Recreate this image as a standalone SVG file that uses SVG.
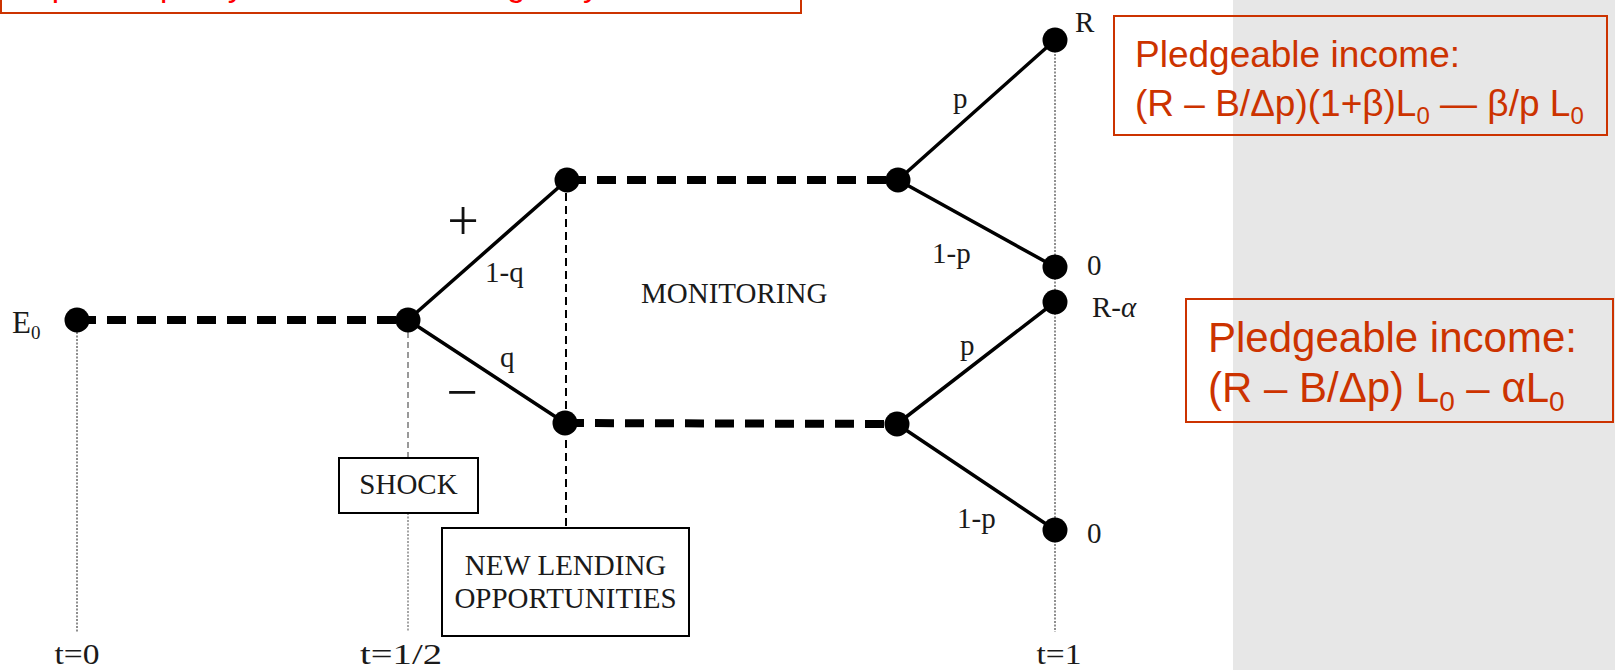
<svg xmlns="http://www.w3.org/2000/svg" width="1615" height="670" viewBox="0 0 1615 670">
  <style>
    .serif { font-family: "Liberation Serif", "Times New Roman", serif; font-size: 29px; fill: #1a1a1a; }
    .sign { font-family: "Liberation Serif", "Times New Roman", serif; font-size: 56px; fill: #111; }
    .red { font-family: "Liberation Sans", Arial, sans-serif; fill: #CC3300; }
    .redbox { fill: none; stroke: #CC3300; stroke-width: 2; }
    .node { fill: #000; }
    .thick { stroke: #000; stroke-width: 8; stroke-dasharray: 19 11; fill: none; }
    .branch { stroke: #000; stroke-width: 3.5; fill: none; stroke-linecap: round; }
    .dotted { stroke: #444; stroke-width: 1.2; stroke-dasharray: 2 1.5; fill: none; }
    .greydash { stroke: #999; stroke-width: 2; stroke-dasharray: 6 4; fill: none; }
    .greydot { stroke: #888; stroke-width: 1.5; stroke-dasharray: 2 1.5; fill: none; }
    .blackdash { stroke: #000; stroke-width: 2; stroke-dasharray: 8 5; fill: none; }
    .box { fill: #fff; stroke: #000; stroke-width: 2; }
  </style>

  <rect x="0" y="0" width="1615" height="670" fill="#fff"/>
  <!-- shaded right-hand panel -->
  <rect x="1233" y="0" width="382" height="670" fill="#E7E7E7"/>

  <!-- header box, running off the top edge -->
  <g id="header">
    <rect x="1" y="-40" width="800" height="53" fill="#fff" stroke="#CC3300" stroke-width="2"/>
    <text y="-4" font-family="Liberation Sans, Arial, sans-serif" font-size="33" fill="#FF0000"><tspan x="15">Impact of</tspan><tspan x="160">policy</tspan><tspan x="276">on bank</tspan><tspan x="419">lending</tspan><tspan x="539">only</tspan></text>
  </g>

  <!-- connectors -->
  <g id="connectors">
    <!-- time axis guides -->
    <line class="dotted" x1="77" y1="332" x2="77" y2="632"/>
    <line class="greydash" x1="408" y1="332" x2="408" y2="458"/>
    <line class="greydot" x1="408" y1="513" x2="408" y2="632"/>
    <line class="blackdash" x1="566" y1="180" x2="566" y2="528"/>
    <line class="dotted" x1="1055" y1="40" x2="1055" y2="632"/>
    <!-- thick dashed waiting periods -->
    <line class="thick" x1="77" y1="320" x2="408" y2="320"/>
    <line class="thick" x1="567" y1="180" x2="898" y2="180"/>
    <line class="thick" x1="565" y1="423" x2="897" y2="424"/>
    <!-- branches -->
    <line class="branch" x1="408" y1="320" x2="567" y2="180"/>
    <line class="branch" x1="408" y1="320" x2="565" y2="423"/>
    <line class="branch" x1="898" y1="180" x2="1055" y2="40"/>
    <line class="branch" x1="898" y1="180" x2="1055" y2="267"/>
    <line class="branch" x1="897" y1="424" x2="1055" y2="302"/>
    <line class="branch" x1="897" y1="424" x2="1055" y2="530"/>
  </g>

  <!-- nodes -->
  <g id="n-e0"><circle class="node" cx="77" cy="320" r="12.5"/>
    <text class="serif" x="12" y="333" style="font-size:31px">E<tspan font-size="19" dy="6">0</tspan></text></g>
  <g id="n-shock"><circle class="node" cx="408" cy="320" r="12.5"/></g>
  <g id="n-up"><circle class="node" cx="567" cy="180" r="12.5"/></g>
  <g id="n-down"><circle class="node" cx="565" cy="423" r="12.5"/></g>
  <g id="n-up-mon"><circle class="node" cx="898" cy="180" r="12.5"/></g>
  <g id="n-down-mon"><circle class="node" cx="897" cy="424" r="12.5"/></g>
  <g id="n-R"><circle class="node" cx="1055" cy="40" r="12.5"/>
    <text class="serif" x="1075" y="32">R</text></g>
  <g id="n-0a"><circle class="node" cx="1055" cy="267" r="12.5"/>
    <text class="serif" x="1087" y="275">0</text></g>
  <g id="n-Ra"><circle class="node" cx="1055" cy="302" r="12.5"/>
    <text class="serif" x="1092" y="317">R-<tspan font-style="italic">α</tspan></text></g>
  <g id="n-0b"><circle class="node" cx="1055" cy="530" r="12.5"/>
    <text class="serif" x="1087" y="543">0</text></g>

  <!-- branch labels -->
  <g id="labels">
    <text class="sign" x="463" y="240" text-anchor="middle">+</text>
    <text class="sign" x="462" y="411" text-anchor="middle">−</text>
    <text class="serif" x="485" y="282">1-q</text>
    <text class="serif" x="500" y="367">q</text>
    <text class="serif" x="641" y="303">MONITORING</text>
    <text class="serif" x="953" y="108">p</text>
    <text class="serif" x="932" y="263">1-p</text>
    <text class="serif" x="960" y="355">p</text>
    <text class="serif" x="957" y="528">1-p</text>
  </g>

  <!-- event boxes -->
  <g id="shock">
    <rect class="box" x="339" y="458" width="139" height="55"/>
    <text class="serif" x="408.5" y="494" text-anchor="middle">SHOCK</text>
  </g>
  <g id="new-lending">
    <rect class="box" x="442" y="528" width="247" height="108"/>
    <text class="serif" x="565.5" y="575" text-anchor="middle">NEW LENDING</text>
    <text class="serif" x="565.5" y="608" text-anchor="middle">OPPORTUNITIES</text>
  </g>

  <!-- time labels -->
  <g id="times">
    <text class="serif" x="77" y="664" text-anchor="middle" textLength="45" lengthAdjust="spacingAndGlyphs">t=0</text>
    <text class="serif" x="401" y="664" text-anchor="middle" textLength="82" lengthAdjust="spacingAndGlyphs">t=1/2</text>
    <text class="serif" x="1059" y="664" text-anchor="middle" textLength="45" lengthAdjust="spacingAndGlyphs">t=1</text>
  </g>

  <!-- pledgeable income, good state -->
  <g id="income-good">
    <rect class="redbox" x="1114" y="16" width="493" height="119"/>
    <text class="red" x="1135" y="67" font-size="37">Pledgeable income:</text>
    <text class="red" x="1135" y="116" font-size="37">(R – B/Δp)(1+β)L<tspan font-size="24" dy="8">0</tspan><tspan dy="-8"> — β/p L</tspan><tspan font-size="24" dy="8">0</tspan></text>
  </g>

  <!-- pledgeable income, bad state -->
  <g id="income-bad">
    <rect class="redbox" x="1186" y="299" width="427" height="123"/>
    <text class="red" x="1208" y="352" font-size="42">Pledgeable income:</text>
    <text class="red" x="1208" y="402" font-size="42">(R – B/Δp) L<tspan font-size="28" dy="9">0</tspan><tspan dy="-9"> – αL</tspan><tspan font-size="28" dy="9">0</tspan></text>
  </g>
</svg>
